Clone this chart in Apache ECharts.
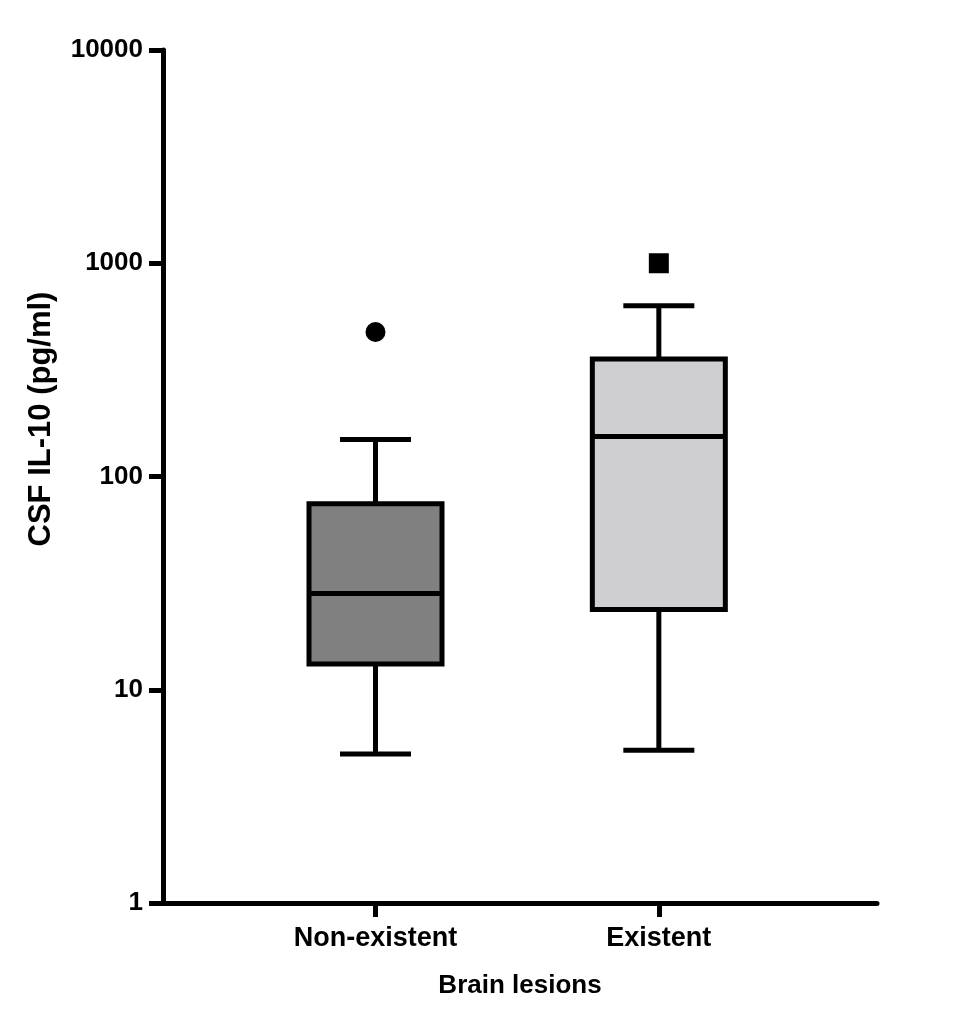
<!DOCTYPE html>
<html>
<head>
<meta charset="utf-8">
<script src="https://cdn.jsdelivr.net/npm/echarts@6/dist/echarts.min.js"></script>
<style>html,body{margin:0;padding:0;background:#fff}#c{width:960px;height:1026px}</style>
</head>
<body>
<div id="c"></div>
<script>
const categories = ['Non-existent', 'Existent'];
const lowerWhisker = [5.0, 5.2];
const q1 = [13.2, 23.8];
const median = [28.3, 154];
const q3 = [74.5, 356];
const upperWhisker = [149, 632];
const outlierValues = [476, 1000];
const outlierSymbols = ['circle', 'rect'];
const boxColors = ['#808080', '#cfcfd1'];
const yTicks = [1, 10, 100, 1000, 10000];
const xTitle = 'Brain lesions';
const yTitle = 'CSF IL-10 (pg/ml)';

// categories placed at x = 1, 2 on a value axis spanning 0.25 .. 2.77
const catPos = categories.map((c, i) => i + 1);

const chart = echarts.init(document.getElementById('c'), null, {renderer: 'canvas'});
const font = 'Liberation Sans, Arial, sans-serif';

const boxData = categories.map((c, i) => [catPos[i], lowerWhisker[i], q1[i], median[i], q3[i], upperWhisker[i], i]);
const outData = categories.map((c, i) => ({value: [catPos[i], outlierValues[i]], symbol: outlierSymbols[i]}));

function renderBox(params, api) {
  const x = api.value(0);
  const lw = api.coord([x, api.value(1)]);
  const b1 = api.coord([x, api.value(2)]);
  const md = api.coord([x, api.value(3)]);
  const b3 = api.coord([x, api.value(4)]);
  const uw = api.coord([x, api.value(5)]);
  const idx = api.value(6);
  const boxW = 133;
  const capW = 71;
  const lw5 = 5;
  const cx = lw[0];
  const st = {stroke: '#000', lineWidth: lw5, fill: null};
  return {
    type: 'group',
    children: [
      {type: 'line', shape: {x1: cx, y1: uw[1], x2: cx, y2: b3[1]}, style: st},
      {type: 'line', shape: {x1: cx, y1: b1[1], x2: cx, y2: lw[1]}, style: st},
      {type: 'line', shape: {x1: cx - capW / 2, y1: uw[1], x2: cx + capW / 2, y2: uw[1]}, style: st},
      {type: 'line', shape: {x1: cx - capW / 2, y1: lw[1], x2: cx + capW / 2, y2: lw[1]}, style: st},
      {type: 'rect', shape: {x: cx - boxW / 2, y: b3[1], width: boxW, height: b1[1] - b3[1]},
        style: {fill: boxColors[idx], stroke: '#000', lineWidth: lw5}},
      {type: 'line', shape: {x1: cx - boxW / 2, y1: md[1], x2: cx + boxW / 2, y2: md[1]}, style: st}
    ]
  };
}

chart.setOption({
  animation: false,
  backgroundColor: '#fff',
  grid: {left: 163, right: 83, top: 50, bottom: 123, containLabel: false},
  xAxis: {
    type: 'value',
    min: 0.25,
    max: 2.77,
    axisLine: {show: true, lineStyle: {color: '#000', width: 5}},
    axisTick: {show: true, customValues: catPos, length: 14, lineStyle: {color: '#000', width: 5}},
    axisLabel: {
      customValues: catPos,
      formatter: v => categories[Math.round(v) - 1] || '',
      color: '#000', fontSize: 27, fontWeight: 'bold', fontFamily: font, margin: 22
    },
    splitLine: {show: false},
    name: xTitle,
    nameLocation: 'middle',
    nameGap: 70,
    nameTextStyle: {color: '#000', fontSize: 26, fontWeight: 'bold', fontFamily: font}
  },
  yAxis: {
    type: 'log',
    logBase: 10,
    min: yTicks[0],
    max: yTicks[yTicks.length - 1],
    axisLine: {show: true, lineStyle: {color: '#000', width: 5}},
    axisTick: {show: true, length: 14, lineStyle: {color: '#000', width: 5}},
    axisLabel: {formatter: v => String(Math.round(v)), color: '#000', fontSize: 26, fontWeight: 'bold', fontFamily: font, margin: 20},
    splitLine: {show: false},
    minorTick: {show: false}
  },
  graphic: [{
    type: 'text',
    x: 41, y: 419,
    rotation: Math.PI / 2,
    style: {text: yTitle, fill: '#000', font: 'bold 31px ' + font, textAlign: 'center', textVerticalAlign: 'middle'}
  }],
  series: [
    {type: 'custom', renderItem: renderBox, data: boxData, encode: {x: 0, y: [1, 2, 3, 4, 5]}, z: 3},
    {type: 'scatter', data: outData, symbolSize: 20, itemStyle: {color: '#000', opacity: 1}, z: 4}
  ]
});
</script>
</body>
</html>
